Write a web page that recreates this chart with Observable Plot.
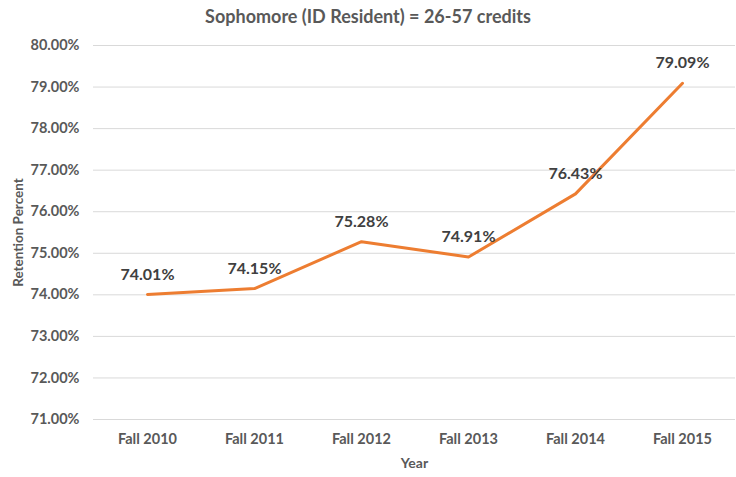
<!DOCTYPE html>
<html>
<head>
<meta charset="utf-8">
<script src="https://cdn.jsdelivr.net/npm/d3@7"></script>
<script src="https://cdn.jsdelivr.net/npm/@observablehq/plot@0.6"></script>
<style>
  html, body { margin: 0; padding: 0; background: #fff; }
  #title { width: 736px; height: 32px; line-height: 32px; text-align: center; font-family: Lato, "Open Sans", sans-serif; font-size: 18px; font-weight: bold; color: #595959; }
</style>
</head>
<body>
<div id="title">Sophomore (ID Resident) = 26-57 credits</div>
<div id="chart"></div>
<script>
const years = ["Fall 2010", "Fall 2011", "Fall 2012", "Fall 2013", "Fall 2014", "Fall 2015"];
const retention = [74.01, 74.15, 75.28, 74.91, 76.43, 79.09];
const yTicks = [71, 72, 73, 74, 75, 76, 77, 78, 79, 80];

const data = years.map((y, i) => ({year: y, value: retention[i]}));
const font = "Lato, 'Open Sans', sans-serif";

const chart = Plot.plot({
  width: 736,
  height: 445,
  marginLeft: 93,
  marginRight: 1,
  marginTop: 13,
  marginBottom: 58,
  style: {fontFamily: font, fontSize: "14px", fontWeight: "bold", color: "#595959", background: "#fff"},
  x: {type: "point", domain: years, padding: 0.5, label: null},
  y: {domain: [71, 80], label: null},
  marks: [
    Plot.gridY(yTicks, {stroke: "#d9d9d9", strokeOpacity: 1, strokeWidth: 1}),
    Plot.axisY(yTicks, {tickSize: 0, tickPadding: 14, tickFormat: d => d.toFixed(2) + "%", fill: "#595959", fontSize: 14.5, label: null}),
    Plot.axisX({tickSize: 0, tickPadding: 14, fill: "#595959", fontSize: 14.5, label: null}),
    Plot.text(["Year"], {frameAnchor: "bottom", dy: 44, lineAnchor: "middle", fill: "#595959", fontSize: 14, fontWeight: "bold"}),
    Plot.text(["Retention Percent"], {frameAnchor: "left", dx: -75, rotate: -90, textAnchor: "middle", fill: "#595959", fontSize: 13.5, fontWeight: "bold"}),
    Plot.line(data, {x: "year", y: "value", stroke: "#ED7D31", strokeWidth: 3}),
    Plot.text(data, {x: "year", y: "value", text: d => d.value.toFixed(2) + "%", dy: -20, fill: "#404040", fontSize: 16, fontWeight: "bold"})
  ]
});
document.getElementById("chart").appendChild(chart);
</script>
</body>
</html>
